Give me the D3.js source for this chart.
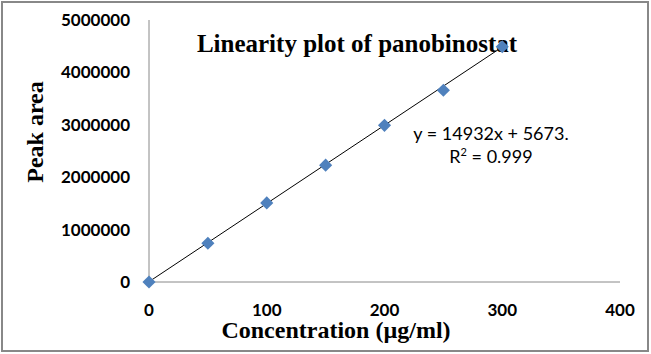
<!DOCTYPE html>
<html lang="en">
<head>
    <meta charset="UTF-8">
    <title>Linearity plot of panobinostat</title>
    <script src="https://d3js.org/d3.v7.min.js"></script>
    <style>
        body { margin: 0; background: #fff; }
        .tick-label { font-family: Lato, "Open Sans", sans-serif; font-size: 17px; font-weight: bold; fill: #000; }
        .eq { font-family: Lato, "Open Sans", sans-serif; font-size: 18px; fill: #000; }
        .title { font-family: "Liberation Serif", "Times New Roman", serif; font-weight: bold; fill: #000; }
    </style>
</head>
<body>
<svg width="651" height="354"></svg>
<script>
    // Data
    const concentration = [0, 50, 100, 150, 200, 250, 300];
    const peakArea = [0, 740000, 1510000, 2230000, 2990000, 3660000, 4490000];
    const xTicks = [0, 100, 200, 300, 400];
    const yTicks = [0, 1000000, 2000000, 3000000, 4000000, 5000000];
    const slope = 14932, intercept = 5673;

    const svg = d3.select("svg");

    // Outer frame
    svg.append("rect")
        .attr("x", 2).attr("y", 2)
        .attr("width", 646).attr("height", 349)
        .attr("fill", "#fff")
        .attr("stroke", "#888").attr("stroke-width", 2);

    const x = d3.scaleLinear().domain([0, 400]).range([149, 620]);
    const y = d3.scaleLinear().domain([0, 5000000]).range([282, 20]);

    // Axes (lines only, no tick marks)
    svg.append("line")
        .attr("x1", x(0)).attr("x2", x(0))
        .attr("y1", y(5000000)).attr("y2", y(0))
        .attr("stroke", "#888").attr("stroke-width", 1);
    svg.append("line")
        .attr("x1", x(0)).attr("x2", x(400))
        .attr("y1", y(0)).attr("y2", y(0))
        .attr("stroke", "#888").attr("stroke-width", 1);

    // Tick labels
    svg.selectAll(".ytl").data(yTicks).enter().append("text")
        .attr("class", "tick-label")
        .attr("x", 130)
        .attr("y", d => y(d) + 6)
        .attr("text-anchor", "end")
        .text(d => d);

    svg.selectAll(".xtl").data(xTicks).enter().append("text")
        .attr("class", "tick-label")
        .attr("x", d => x(d))
        .attr("y", 316)
        .attr("text-anchor", "middle")
        .text(d => d);

    // Title (drawn under the markers, as in the original)
    svg.append("text")
        .attr("class", "title")
        .attr("x", 357).attr("y", 52)
        .attr("text-anchor", "middle")
        .style("font-size", "25px")
        .text("Linearity plot of panobinostat");

    // Trendline
    svg.append("line")
        .attr("x1", x(0)).attr("y1", y(intercept))
        .attr("x2", x(300)).attr("y2", y(slope * 300 + intercept))
        .attr("stroke", "#000").attr("stroke-width", 1);

    // Markers
    const pts = concentration.map((c, i) => [c, peakArea[i]]);
    svg.selectAll(".pt").data(pts).enter().append("path")
        .attr("d", d3.symbol().type(d3.symbolDiamond2).size(110))
        .attr("transform", d => "translate(" + x(d[0]) + "," + y(d[1]) + ")")
        .attr("fill", "#4F81BD");

    // Equation
    svg.append("text")
        .attr("class", "eq")
        .attr("x", 491).attr("y", 140)
        .attr("text-anchor", "middle")
        .text("y = 14932x + 5673.");
    const r2 = svg.append("text")
        .attr("class", "eq")
        .attr("x", 491).attr("y", 163)
        .attr("text-anchor", "middle");
    r2.append("tspan").text("R");
    r2.append("tspan").attr("dy", -7).style("font-size", "11px").text("2");
    r2.append("tspan").attr("dy", 7).text(" = 0.999");

    // Axis titles
    svg.append("text")
        .attr("class", "title")
        .attr("transform", "translate(43,132) rotate(-90)")
        .attr("text-anchor", "middle")
        .style("font-size", "24px")
        .text("Peak area");

    svg.append("text")
        .attr("class", "title")
        .attr("x", 336).attr("y", 338)
        .attr("text-anchor", "middle")
        .style("font-size", "24px")
        .text("Concentration (\u00b5g/ml)");
</script>
</body>
</html>
